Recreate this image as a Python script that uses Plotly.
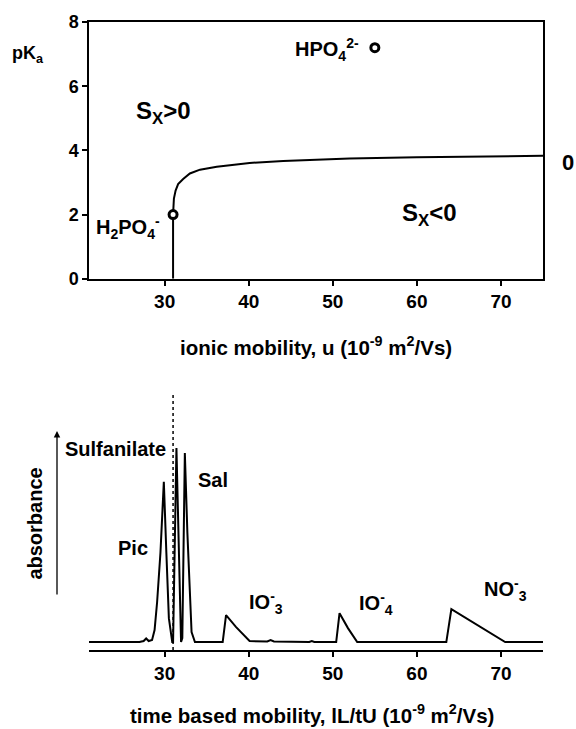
import plotly.graph_objects as go

# ---------- data: top panel (pKa vs ionic mobility) ----------
curve_u = [31.0, 31.0, 31.1, 31.3, 31.6, 32.2, 33.0, 34.2, 36.2, 40.1, 44.1, 52.0, 60.0, 68.0, 75.0]
curve_pka = [0.0, 2.0, 2.5, 2.75, 2.95, 3.11, 3.28, 3.40, 3.49, 3.61, 3.67, 3.75, 3.79, 3.82, 3.83]
point_u = [31.0, 55.0]
point_pka = [2.0, 7.2]
point_names = ["H<sub>2</sub>PO<sub>4</sub><sup>-</sup>", "HPO<sub>4</sub><sup>2-</sup>"]

# ---------- data: bottom panel (electropherogram) ----------
mob = [21.0, 27.0, 27.5, 27.8, 28.1, 28.5, 28.8, 29.1, 29.5, 29.9, 30.2, 30.5, 30.9,
       31.0, 31.4, 31.7, 31.95, 32.1, 32.4, 32.7, 33.2, 33.6, 36.9, 37.3, 38.5, 40.1,
       42.2, 42.6, 43.0, 47.2, 47.5, 47.8, 50.4, 50.8, 51.8, 52.9, 63.5, 64.1, 66.0,
       68.5, 70.5, 75.0]
absb = [0.0, 0.0, 0.005, 0.018, 0.005, 0.01, 0.06, 0.2, 0.45, 0.805, 0.45, 0.12, 0.0,
        0.0, 0.975, 0.4, 0.0, 0.02, 0.95, 0.55, 0.05, 0.0, 0.0, 0.135, 0.075, 0.005,
        0.003, 0.01, 0.003, 0.0, 0.005, 0.0, 0.0, 0.145, 0.07, 0.0, 0.0, 0.165, 0.115,
        0.05, 0.0, 0.0]
peak_names = ["Sulfanilate", "Pic", "Sal", "IO<sup>-</sup><sub>3</sub>",
              "IO<sup>-</sup><sub>4</sub>", "NO<sup>-</sup><sub>3</sub>"]
xticks = [30, 40, 50, 60, 70]
yticks_top = [0, 2, 4, 6, 8]

FONT = "Liberation Sans, Arial, sans-serif"
W, H = 576, 729
ML, MR, MT, MB = 89, 33, 19, 79
PW, PH = W - ML - MR, H - MT - MB


def px(xp):
    return (xp - ML) / PW


def py(yp):
    return (H - MB - yp) / PH


fig = go.Figure()
fig.add_trace(go.Scatter(x=curve_u, y=curve_pka, mode="lines",
                         line=dict(color="black", width=2), xaxis="x", yaxis="y",
                         showlegend=False, hoverinfo="skip"))
fig.add_trace(go.Scatter(x=point_u, y=point_pka, mode="markers",
                         marker=dict(symbol="circle", size=8, color="white",
                                     line=dict(color="black", width=3)),
                         xaxis="x", yaxis="y", showlegend=False))
fig.add_trace(go.Scatter(x=mob, y=absb, mode="lines",
                         line=dict(color="black", width=2), xaxis="x2", yaxis="y2",
                         showlegend=False))

axis_common = dict(showline=True, linecolor="black", linewidth=1.5, ticks="outside",
                   ticklen=5, tickwidth=1.5, tickcolor="black", showgrid=False,
                   zeroline=False)
XT = dict(family=FONT, size=19, color="black", weight="bold")
YT = dict(family=FONT, size=18, color="black", weight="bold")

fig.update_layout(
    width=W, height=H, margin=dict(l=ML, r=MR, t=MT, b=MB),
    paper_bgcolor="white", plot_bgcolor="white",
    font=dict(family=FONT, color="black"),
    xaxis=dict(**axis_common, range=[21, 75], tickvals=xticks, mirror=True,
               anchor="y", domain=[0, 1], tickfont=XT),
    yaxis=dict(**axis_common, range=[0, 8], tickvals=yticks_top, mirror=True,
               anchor="x", domain=[py(277), 1], tickfont=YT),
    xaxis2=dict(**axis_common, range=[21, 75], tickvals=xticks, anchor="y2",
                domain=[0, 1], tickfont=XT),
    yaxis2=dict(range=[-0.04, 1.25], visible=False, anchor="x2",
                domain=[0, py(392)]),
)

# dotted reference line at u = 31
fig.add_shape(type="line", xref="x2", yref="y2", x0=31.0, x1=31.0, y0=-0.04, y1=1.25,
              line=dict(color="black", width=1.5, dash="dot"))

B = dict(family=FONT, color="black")
C = dict(xanchor="center", yanchor="middle", showarrow=False)
ann = []
# top panel texts
ann.append(dict(text="<b>pK<sub>a</sub></b>", xref="paper", yref="paper", x=px(28), y=py(52),
                font=dict(**B, size=18), **C))
ann.append(dict(text="<b>S<sub>X</sub>>0</b>", xref="x", yref="y", x=29.9, y=5.18,
                font=dict(**B, size=24), **C))
ann.append(dict(text="<b>S<sub>X</sub><0</b>", xref="x", yref="y", x=61.5, y=2.0,
                font=dict(**B, size=24), **C))
ann.append(dict(text="<b>" + point_names[0] + "</b>", xref="x", yref="y", x=25.6, y=1.6,
                font=dict(**B, size=20), **C))
ann.append(dict(text="<b>" + point_names[1] + "</b>", xref="x", yref="y", x=49.3, y=7.15,
                font=dict(**B, size=20), **C))
ann.append(dict(text="<b>0</b>", xref="paper", yref="paper", x=px(568), y=py(160),
                font=dict(**B, size=22), **C))
ann.append(dict(text="<b>ionic mobility, u (10<sup>-9</sup> m<sup>2</sup>/Vs)</b>",
                xref="paper", yref="paper", x=px(316), y=py(345),
                font=dict(**B, size=20.5), **C))
# bottom panel texts
peak_pos = [(30.4, 0.97, "right"), (26.2, 0.47, "center"), (35.8, 0.815, "center"),
            (42.1, 0.2, "center"), (55.1, 0.195, "center"), (70.5, 0.265, "center")]
for name, (xx, yy, xa) in zip(peak_names, peak_pos):
    ann.append(dict(text="<b>" + name + "</b>", xref="x2", yref="y2", x=xx, y=yy,
                    xanchor=xa, yanchor="middle", showarrow=False,
                    font=dict(**B, size=20)))
ann.append(dict(text="<b>absorbance</b>", xref="paper", yref="paper", x=px(35), y=py(523),
                textangle=-90, font=dict(**B, size=20), **C))
ann.append(dict(text="", xref="paper", yref="paper", x=px(57), y=py(430),
                ax=0, ay=165, showarrow=True, arrowhead=2, arrowsize=1, arrowwidth=1.3,
                arrowcolor="black"))
ann.append(dict(text="<b>time based mobility, lL/tU (10<sup>-9</sup> m<sup>2</sup>/Vs)</b>",
                xref="paper", yref="paper", x=px(312), y=py(714),
                font=dict(**B, size=20.5), **C))
fig.update_layout(annotations=ann)

# remove the default page margin so the figure sits at the window's top-left corner
fig.write_html("out.html", config={"displayModeBar": False},
               post_script="document.body.style.margin='0';")
